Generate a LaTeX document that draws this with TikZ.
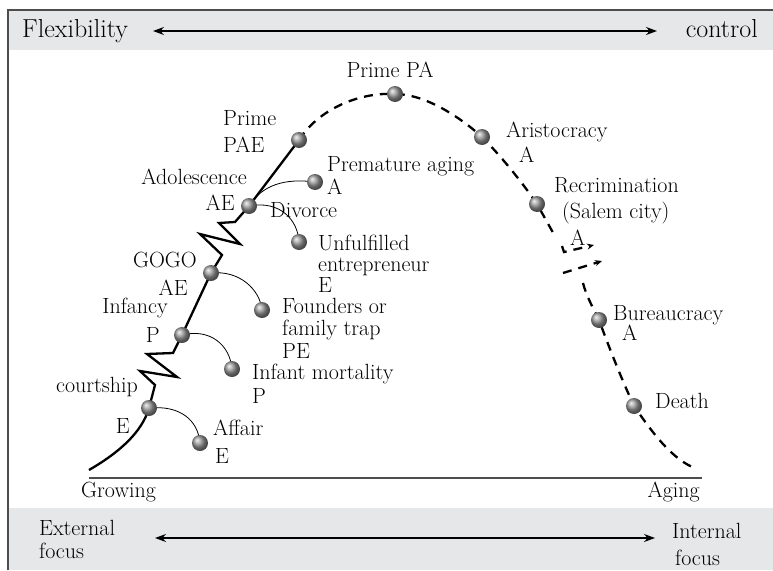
\documentclass[tikz,border=0pt]{standalone}
\usetikzlibrary{arrows.meta}

\definecolor{bandgray}{HTML}{E6E7E8}
\definecolor{framegray}{HTML}{4D4D4D}

\tikzset{
  stage/.style={circle,inner sep=0pt,minimum size=16pt,shading=ball,ball color=gray!80},
  lbl/.style={inner sep=0pt,font=\fontsize{22}{22}\selectfont},
  hdr/.style={inner sep=0pt,font=\fontsize{26}{26}\selectfont},
  lifeline/.style={line width=2.3pt,line join=miter},
  dashline/.style={line width=2.3pt,dash pattern=on 9pt off 7pt},
  branchline/.style={line width=0.8pt},
  twoway/.style={line width=1.2pt,{Stealth[length=11pt,width=8pt]}-{Stealth[length=11pt,width=8pt]}},
}

\begin{document}
\begin{tikzpicture}[x=1pt,y=-1pt]
  \useasboundingbox (0,0) rectangle (773,570);
  % bands and frame
  \fill[bandgray] (8,10) rectangle (773,50);
  \fill[bandgray] (8,508) rectangle (773,570);
  \draw[framegray,line width=1.2pt] (8,570) -- (8,10) -- (773,10);
  \draw[framegray,line width=1.4pt] (89,478) -- (702,478);

  % header and footer
  \node[hdr,anchor=base west] (flex) at (22,37) {Flexibility};
  \node[hdr,anchor=base east] (ctrl) at (758,37) {control};
  \draw[twoway] ([xshift=131pt,yshift=6pt]flex.base west) -- ([xshift=-101pt,yshift=6pt]ctrl.base east);
  \node[lbl,anchor=base west] (growing) at (81,497) {Growing};
  \node[lbl,anchor=base east] (aging) at (700,497) {Aging};
  \node[lbl,anchor=base west] (ext) at (39,535) {External};
  \node[lbl,anchor=base west] (extfocus) at (39,558) {focus};
  \node[lbl,anchor=base west] (int) at (672,538) {Internal};
  \node[lbl,anchor=base west] (intfocus) at (675,565) {focus};
  \draw[twoway] ([xshift=116pt,yshift=-3pt]ext.base west) -- ([xshift=-17pt]int.base west);

  % stage positions
  \coordinate (start) at (89,470);
  \coordinate (court) at (149,408);
  \coordinate (infancy) at (182,335);
  \coordinate (gogo) at (211,273);
  \coordinate (adol) at (249,206);
  \coordinate (primepae) at (299,140);
  \coordinate (primepa) at (395,94);
  \coordinate (arist) at (482,137);
  \coordinate (recrim) at (537,204);
  \coordinate (bureau) at (599,320);
  \coordinate (death) at (634,406);
  \coordinate (finish) at (697,469);
  \coordinate (affair) at (200,443);
  \coordinate (infmort) at (232,369);
  \coordinate (founders) at (262,310);
  \coordinate (unfulf) at (299,242);
  \coordinate (premat) at (315,182);

  % growing side
  \draw[lifeline] (start) .. controls (120,452) and (142,432) .. (court)
    -- (155,385) -- (140,371) -- (177,377) -- (147,354) -- (173,353) -- (infancy)
    -- (gogo) -- (222,255) -- (200,234) -- (240,244) -- (219,223) -- (235,222)
    -- (adol) -- (primepae);

  % aging side
  \draw[dashline] (primepae) .. controls (318,110) and (358,92) .. (primepa)
    .. controls (425,94) and (460,117) .. (arist)
    .. controls (500,155) and (522,182) .. (recrim) -- (556,238);
  \draw[dashline,-{Stealth[length=7pt,width=6pt]}] (562,246) -- (564,252) -- (594,245);
  \draw[dashline,-{Stealth[length=7pt,width=6pt]}] (563,273) -- (602,261);
  \draw[dashline] (583,283) .. controls (586,295) and (592,306) .. (bureau)
    .. controls (610,350) and (622,380) .. (death)
    .. controls (652,432) and (672,460) .. (finish);

  % traps
  \draw[branchline] (court) .. controls (180,405) and (198,420) .. (affair);
  \draw[branchline] (infancy) .. controls (210,328) and (230,345) .. (infmort);
  \draw[branchline] (gogo) .. controls (240,270) and (260,290) .. (founders);
  \draw[branchline] (adol) .. controls (262,185) and (285,178) .. (premat);
  \draw[branchline] (adol) .. controls (280,200) and (298,220) .. (unfulf);

  \foreach \s in {court,infancy,gogo,adol,primepae,primepa,arist,recrim,bureau,death,
                  affair,infmort,founders,unfulf,premat}
    \node[stage] at (\s) {};

  % labels
  \node[lbl,anchor=base west] (paename) at (223,125) {Prime};
  \node[lbl,anchor=base west] (paecode) at (223,152) {PAE};
  \node[lbl,anchor=base] (paname) at (390,77) {Prime PA};
  \node[lbl,anchor=base east] (adolname) at (247,184) {Adolescence};
  \node[lbl,anchor=base east] (adolcode) at (235,210) {AE};
  \node[lbl,anchor=base west] (prematname) at (327,171) {Premature aging};
  \node[lbl,anchor=base west] (prematcode) at (327,194) {A};
  \node[lbl,anchor=base west] (divorce) at (270,217) {Divorce};
  \node[lbl,anchor=base west] (unfulfname) at (318,250) {Unfulfilled};
  \node[lbl,anchor=base west] (unfulfname2) at (318,271) {entrepreneur};
  \node[lbl,anchor=base west] (unfulfcode) at (318,292) {E};
  \node[lbl,anchor=base east] (gogoname) at (197,267) {GOGO};
  \node[lbl,anchor=base east] (gogocode) at (188,295) {AE};
  \node[lbl,anchor=base east] (infancyname) at (168,313) {Infancy};
  \node[lbl,anchor=base east] (infancycode) at (160,342) {P};
  \node[lbl,anchor=base west] (foundersname) at (282,313) {Founders or};
  \node[lbl,anchor=base west] (foundersname2) at (282,335) {family trap};
  \node[lbl,anchor=base west] (founderscode) at (282,358) {PE};
  \node[lbl,anchor=base west] (infmortname) at (252,379) {Infant mortality};
  \node[lbl,anchor=base west] (infmortcode) at (252,403) {P};
  \node[lbl,anchor=base east] (courtname) at (138,392) {courtship};
  \node[lbl,anchor=base east] (courtcode) at (130,433) {E};
  \node[lbl,anchor=base west] (affairname) at (213,435) {Affair};
  \node[lbl,anchor=base west] (affaircode) at (215,463) {E};
  \node[lbl,anchor=base west] (aristname) at (506,137) {Aristocracy};
  \node[lbl,anchor=base west] (aristcode) at (519,162) {A};
  \node[lbl,anchor=base west] (recrimname) at (554,192) {Recrimination};
  \node[lbl,anchor=base west] (recrimname2) at (562,218) {(Salem city)};
  \node[lbl,anchor=base west] (recrimcode) at (570,245) {A};
  \node[lbl,anchor=base west] (bureauname) at (613,320) {Bureaucracy};
  \node[lbl,anchor=base west] (bureaucode) at (622,340) {A};
  \node[lbl,anchor=base west] (deathname) at (655,408) {Death};
\end{tikzpicture}
\end{document}
